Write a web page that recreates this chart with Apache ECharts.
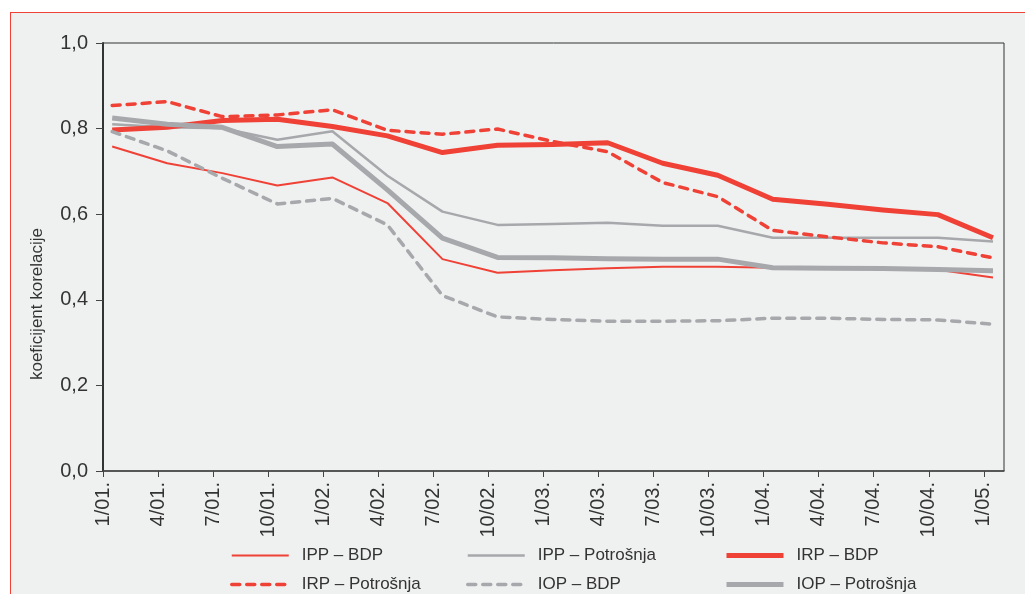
<!DOCTYPE html>
<html>
<head>
<meta charset="utf-8">
<script src="https://cdn.jsdelivr.net/npm/echarts@6/dist/echarts.min.js"></script>
<style>
  html, body { margin: 0; padding: 0; background: #fff; }
  #frame {
    position: absolute; left: 10px; top: 12px; width: 1100px; height: 700px;
    border-top: 1px solid #ef4136; border-left: 1px solid #ef4136;
    background: #eff0f0;
  }
  #chart { position: absolute; left: 0; top: 0; width: 1025px; height: 594px; }
</style>
</head>
<body>
<div id="frame"></div>
<div id="chart"></div>
<script>
// kvartali (1/01. = siječanj 2001.)
const categories = ['1/01.', '4/01.', '7/01.', '10/01.', '1/02.', '4/02.', '7/02.', '10/02.',
  '1/03.', '4/03.', '7/03.', '10/03.', '1/04.', '4/04.', '7/04.', '10/04.', '1/05.']

const ippBdp = [0.758, 0.719, 0.696, 0.667, 0.686, 0.626, 0.495, 0.463, 0.469, 0.474, 0.477, 0.477, 0.475, 0.474, 0.472, 0.470, 0.452]
const ippPotrosnja = [0.810, 0.803, 0.801, 0.774, 0.794, 0.690, 0.606, 0.575, 0.577, 0.580, 0.573, 0.573, 0.545, 0.545, 0.545, 0.545, 0.536]
const irpBdp = [0.797, 0.803, 0.819, 0.822, 0.805, 0.783, 0.744, 0.761, 0.763, 0.767, 0.719, 0.691, 0.635, 0.623, 0.610, 0.599, 0.545]
const irpPotrosnja = [0.854, 0.863, 0.828, 0.832, 0.844, 0.796, 0.787, 0.799, 0.770, 0.746, 0.674, 0.641, 0.562, 0.547, 0.533, 0.524, 0.498]
const iopBdp = [0.793, 0.748, 0.684, 0.624, 0.637, 0.575, 0.410, 0.360, 0.354, 0.350, 0.350, 0.351, 0.357, 0.357, 0.354, 0.353, 0.343]
const iopPotrosnja = [0.825, 0.810, 0.803, 0.758, 0.764, 0.657, 0.544, 0.499, 0.498, 0.496, 0.495, 0.495, 0.475, 0.474, 0.473, 0.471, 0.468]

const RED = '#ef4136'
const GREY = '#a7a8ab'
const FONT = '"Liberation Sans", Arial, sans-serif'

// x os je u mjesecima; točka je sredina prvog mjeseca kvartala
const monthsPerQuarter = 3
const tickMonths = categories.map((c, i) => i * monthsPerQuarter)
const toPoints = arr => arr.map((v, i) => [i * monthsPerQuarter + 0.5, v])

function line(name, data, color, width, dashed) {
  return {
    name: name,
    type: 'line',
    data: toPoints(data),
    symbol: 'none',
    lineStyle: {
      color: color,
      width: width,
      type: dashed ? [8, 7] : 'solid',
      cap: dashed ? 'round' : 'butt',
      join: 'round'
    },
    itemStyle: { color: color },
    animation: false
  }
}

const legendBase = {
  orient: 'vertical',
  top: 547,
  height: 120,
  padding: 0,
  itemWidth: 57,
  itemHeight: 14,
  itemGap: 12,
  selectedMode: false,
  itemStyle: { opacity: 0 },
  lineStyle: { width: 'inherit' },
  textStyle: { fontFamily: FONT, fontSize: 17, color: '#333', padding: [0, 0, 0, 8] }
}

const chart = echarts.init(document.getElementById('chart'))
chart.setOption({
  backgroundColor: 'transparent',
  textStyle: { fontFamily: FONT },
  grid: {
    left: 103, top: 43, width: 901, height: 428,
    show: true, borderColor: '#333', borderWidth: 1, backgroundColor: 'transparent'
  },
  legend: [
    Object.assign({ left: 230, data: ['IPP – BDP', 'IRP – Potrošnja'] }, legendBase),
    Object.assign({ left: 466, data: ['IPP – Potrošnja', 'IOP – BDP'] }, legendBase),
    Object.assign({ left: 724, data: ['IRP – BDP', 'IOP – Potrošnja'] }, legendBase)
  ],
  graphic: [{
    type: 'text',
    x: 37, y: 304,
    rotation: Math.PI / 2,
    style: {
      text: 'koeficijent korelacije',
      fontFamily: FONT, fontSize: 17, fill: '#333',
      align: 'center', verticalAlign: 'middle'
    }
  }],
  xAxis: {
    type: 'value',
    min: 0,
    max: 49.1,
    splitLine: { show: false },
    axisLine: { onZero: false, lineStyle: { color: '#444', width: 1.5 } },
    axisTick: { customValues: tickMonths, length: 6, lineStyle: { color: '#444' } },
    axisLabel: {
      customValues: tickMonths,
      rotate: 90,
      margin: 11,
      fontSize: 20,
      color: '#333',
      formatter: v => categories[Math.round(v / monthsPerQuarter)]
    }
  },
  yAxis: {
    type: 'value',
    min: 0,
    max: 1,
    interval: 0.2,
    splitLine: { show: false },
    axisLine: { show: true, lineStyle: { color: '#333', width: 2 } },
    axisTick: { show: true, length: 7, lineStyle: { color: '#444' } },
    axisLabel: {
      margin: 15,
      fontSize: 20,
      color: '#333',
      formatter: v => v.toFixed(1).replace('.', ',')
    }
  },
  series: [
    line('IPP – BDP', ippBdp, RED, 2, false),
    line('IPP – Potrošnja', ippPotrosnja, GREY, 2.5, false),
    line('IRP – BDP', irpBdp, RED, 5, false),
    line('IRP – Potrošnja', irpPotrosnja, RED, 3.5, true),
    line('IOP – BDP', iopBdp, GREY, 3.5, true),
    line('IOP – Potrošnja', iopPotrosnja, GREY, 5, false)
  ]
})
</script>
</body>
</html>
